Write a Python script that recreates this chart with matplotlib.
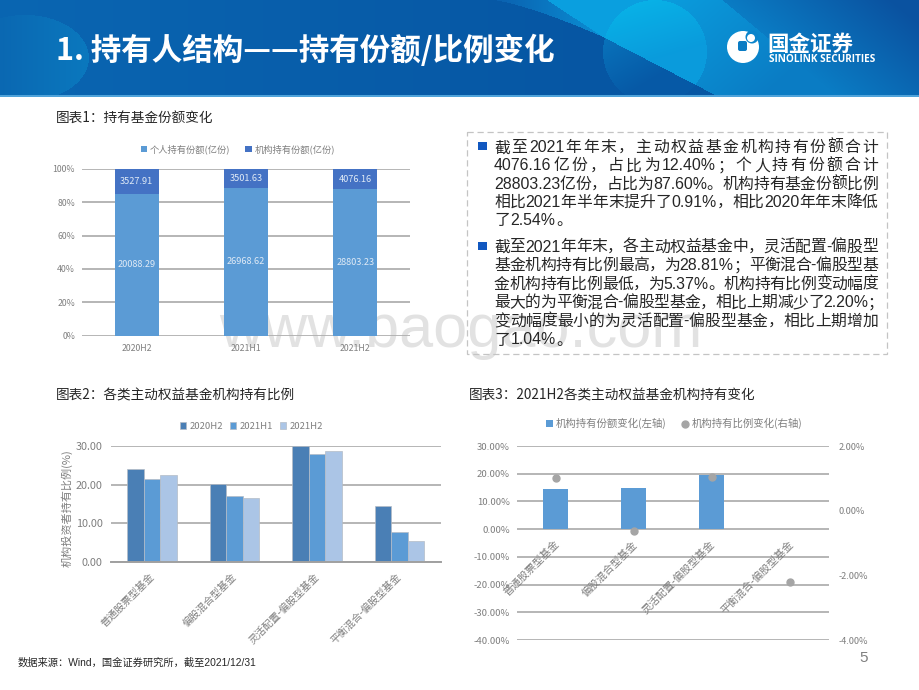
import re
import numpy as np
import matplotlib
matplotlib.use("Agg")
import matplotlib.pyplot as plt
from matplotlib.patches import Circle, FancyBboxPatch, Rectangle

plt.rcParams['font.family'] = ['Noto Sans CJK SC', 'DejaVu Sans']

W, H = 920, 690
GRAY = '#7f7f7f'
GRID = '#b0b0b0'
TEXT_FONT = ['Liberation Sans', 'Noto Sans CJK SC']

# chart 1
periods = ['2020H2', '2021H1', '2021H2']
personal = [20088.29, 26968.62, 28803.23]
institution = [3527.91, 3501.63, 4076.16]

# chart 2
fund_types = ['普通股票型基金', '偏股混合型基金', '灵活配置-偏股型基金', '平衡混合-偏股型基金']
ratio_2020h2 = [24.0, 20.2, 30.0, 14.4]
ratio_2021h1 = [21.4, 17.1, 27.8, 7.6]
ratio_2021h2 = [22.4, 16.5, 28.81, 5.37]

# chart 3
share_change = [14.4, 15.0, 19.6, 0.2]
ratio_change = [1.0, -0.62, 1.04, -2.20]

para1 = ['截至2021年年末，主动权益基金机构持有份额合计',
         '4076.16亿份， 占比为 12.40%； 个人持有份额合计',
         '28803.23亿份，占比为87.60%。机构持有基金份额比例',
         '相比2021年半年末提升了0.91%，相比2020年年末降低',
         '了2.54%。']
para2 = ['截至2021年年末，各主动权益基金中，灵活配置-偏股型',
         '基金机构持有比例最高，为28.81%；平衡混合-偏股型基',
         '金机构持有比例最低，为5.37%。机构持有比例变动幅度',
         '最大的为平衡混合-偏股型基金，相比上期减少了2.20%；',
         '变动幅度最小的为灵活配置-偏股型基金，相比上期增加',
         '了1.04%。']


def lerp(c1, c2, t):
    c1 = np.array(matplotlib.colors.to_rgb(c1))
    c2 = np.array(matplotlib.colors.to_rgb(c2))
    t = np.clip(t, 0, 1)[..., None]
    return c1 * (1 - t) + c2 * t


def header_image():
    x, y = np.meshgrid(np.arange(W) + 0.5, np.arange(96) + 0.5)
    img = lerp('#0a66b2', '#0656a3', x / 600)

    # left oval
    oval = ((x - 25) / 64) ** 2 + ((y - 58) / 43) ** 2 < 1
    img[oval] = lerp('#0a68b2', '#0a78be', x / 88)[oval]

    # big circle under the wedge
    circle = (x - 655) ** 2 + (y - 52) ** 2 < 52 ** 2
    img[circle] = lerp('#0a80c6', '#0659a6', (y + (x - 603) * 0.6) / 110)[circle]

    # swoosh running in from the top
    edge_low = 37 * ((x - 493) / 110) ** 1.3
    edge_high = np.where(x < 603, 37 * (x - 547) / 56, 37)
    swoosh = (x > 493) & (x < 603) & (y < edge_low) & (y > edge_high)
    img[swoosh] = lerp('#0a5fae', '#0a8fd4', (x - 493) / 110)[swoosh]

    # light area on the right
    edge = np.where(x < 603, 37 * (x - 547) / 56, 37 + (x - 603) * 59 / 114)
    light = (x > 547) & (y < edge)
    grad = lerp('#0a9fdf', '#0a7cc4', (x - 600) / 230 + (y - 40) / 200)
    far = lerp('#0a7cc4', '#0a52a0', (x + (48 - y) * 1.2 - 780) / 170)
    mix = np.where((x + (48 - y) * 1.2)[..., None] > 780, far, grad)
    img[light] = mix[light]

    top_circle = circle & light
    img[top_circle] = lerp('#08b4e8', '#0a9bdc', (y + (x - 620) * 0.3) / 70)[top_circle]
    return img


def px_axes(fig, left, top, right, bottom):
    ax = fig.add_axes([left / W, 1 - bottom / H, (right - left) / W, (bottom - top) / H])
    ax.patch.set_alpha(0)
    for s in ax.spines.values():
        s.set_visible(False)
    ax.tick_params(length=0, labelcolor=GRAY)
    return ax


def justify_line(bg, renderer, line, x0, x1, y, size, stretch=True):
    # split into latin runs and single CJK chars, then spread the gap over them
    tokens = re.findall(r'[0-9A-Za-z.%\-]+|\S', line)
    items = [bg.text(0, y, t, fontsize=size, family=TEXT_FONT, color='#262626', va='center', ha='left') for t in tokens]
    widths = [t.get_window_extent(renderer).width for t in items]
    for i, t in enumerate(tokens):
        if t in '，；。：':
            widths[i] = size * 100 / 72
    gap = (x1 - x0 - sum(widths)) / (len(tokens) - 1) if stretch else 0.6
    x = x0
    for item, w in zip(items, widths):
        item.set_x(x)
        x += w + gap


def draw_background(fig):
    bg = fig.add_axes([0, 0, 1, 1])
    bg.set_xlim(0, W)
    bg.set_ylim(H, 0)
    bg.axis('off')
    bg.imshow(header_image(), extent=(0, W, 96, 0), aspect='auto', interpolation='bilinear', zorder=1)
    bg.set_xlim(0, W)
    bg.set_ylim(H, 0)
    bg.add_patch(Rectangle((0, 95), W, 1.5, color='#4fa3da', lw=0, zorder=2))

    # watermark
    bg.text(219, 347, 'www.baogao.com', fontsize=44, family='Liberation Sans', color='#e2e2e2', va='baseline', zorder=2)

    bg.text(56, 51, '1. 持有人结构——持有份额/比例变化', fontsize=22, color='white', weight='bold',
            va='center', ha='left', zorder=5)

    # logo
    bg.add_patch(Circle((743, 47), 16, color='white', lw=0, zorder=5))
    bg.add_patch(Circle((752, 37), 6.5, color='#0a84cb', lw=0, zorder=6))
    bg.add_patch(Circle((751, 38), 4, color='white', lw=0, zorder=7))
    bg.add_patch(FancyBboxPatch((738, 41), 9, 10, boxstyle='round,pad=0,rounding_size=2', color='#0a7cc4', lw=0, zorder=7))
    bg.text(767, 44, '国金证券', fontsize=15.5, color='white', weight='bold', va='center', ha='left', zorder=5)
    bg.text(769, 59, 'SINOLINK SECURITIES', fontsize=7.2, color='white', weight='bold',
            family='Open Sans', va='center', ha='left', zorder=5)

    # captions and footer
    cap = dict(fontsize=9.8, color='#262626', style='italic', va='center', ha='left')
    bg.text(56, 118, '图表1：持有基金份额变化', **cap)
    bg.text(56, 396, '图表2：各类主动权益基金机构持有比例', **cap)
    bg.text(469, 396, '图表3：2021H2各类主动权益基金机构持有变化', **cap)
    bg.text(18, 663, '数据来源：Wind，国金证券研究所，截至2021/12/31', fontsize=7.4, family=TEXT_FONT,
            color='#262626', va='center', ha='left')
    bg.text(859, 658, '5', fontsize=11, family='Liberation Sans', color='#7f7f7f', va='center', ha='left')

    # text panel
    bg.add_patch(Rectangle((467, 132), 420, 222, fill=False, ec='#c4c4c4', lw=0.9, ls=(0, (5, 3)), zorder=3))
    bg.add_patch(Rectangle((478, 142), 9, 8, color='#1158c0', lw=0, zorder=5))
    bg.add_patch(Rectangle((478, 242), 9, 8, color='#1158c0', lw=0, zorder=5))
    renderer = fig.canvas.get_renderer()
    for i, line in enumerate(para1):
        justify_line(bg, renderer, line, 494, 878, 147.7 + i * 18.2, 11.4, stretch=i < 4)
    for i, line in enumerate(para2):
        justify_line(bg, renderer, line, 494, 884 if i == 3 else 878, 247 + i * 18.6, 11.4, stretch=i < 5)


def share_chart(fig):
    ax = px_axes(fig, 82, 168.7, 410, 335.7)
    x = np.arange(len(periods))
    total = np.array(personal) + np.array(institution)
    low = np.array(personal) / total
    high = np.array(institution) / total
    ax.bar(x, low, 0.4, color='#5b9bd5', label='个人持有份额(亿份)', zorder=3)
    ax.bar(x, high, 0.4, bottom=low, color='#4472c4', label='机构持有份额(亿份)', zorder=3)
    for i in x:
        ax.text(i, low[i] / 2, f'{personal[i]:.2f}', color='#dfeaf6', fontsize=6.6, ha='center', va='center', zorder=4)
        ax.text(i, low[i] + high[i] / 2, f'{institution[i]:.2f}', color='#dfeaf6', fontsize=6.6, ha='center', va='center', zorder=4)
    ax.set_xlim(-0.5, 2.5)
    ax.set_ylim(0, 1)
    ax.set_yticks(np.arange(0, 1.01, 0.2), [f'{v}%' for v in range(0, 101, 20)], fontsize=6.3)
    ax.set_xticks(x, periods, fontsize=6.3)
    ax.tick_params(axis='y', pad=5)
    ax.tick_params(axis='x', pad=6)
    ax.grid(axis='y', color=GRID, lw=1.3, zorder=0)
    ax.set_axisbelow(True)
    ax.legend(loc='lower center', bbox_to_anchor=(0.475, 1.06), ncol=2, frameon=False, fontsize=6.7, labelcolor=GRAY,
              handlelength=0.7, handleheight=0.7, handletextpad=0.3, columnspacing=1.6, borderpad=0)


def ratio_chart(fig):
    ax = px_axes(fig, 111, 446, 441, 561.7)
    x = np.arange(len(fund_types))
    w = 0.2
    edge = dict(edgecolor='#b4bcc6', linewidth=0.5, zorder=3)
    ax.bar(x - w, ratio_2020h2, w, color='#4a7fb5', label='2020H2', **edge)
    ax.bar(x, ratio_2021h1, w, color='#5b9bd5', label='2021H1', **edge)
    ax.bar(x + w, ratio_2021h2, w, color='#abc5e6', label='2021H2', **edge)
    ax.set_xlim(-0.5, 3.5)
    ax.set_ylim(0, 30)
    ax.set_yticks([0, 10, 20, 30], ['0.00', '10.00', '20.00', '30.00'], fontsize=7.8)
    ax.set_xticks([])
    ax.tick_params(axis='y', pad=6)
    for i, name in zip(x, fund_types):
        ax.annotate(name, (i, 0), xytext=(-2.5, -7), textcoords='offset points', rotation=45, ha='right', va='top',
                    rotation_mode='anchor', color=GRAY, fontsize=7.3, zorder=5)
    ax.grid(axis='y', color=GRID, lw=1.3, zorder=0)
    ax.set_axisbelow(True)
    ax.axhline(0, color='#a0a0a0', lw=1.4, zorder=4, clip_on=False)
    fig.text(67 / W, 1 - 508 / H, '机构投资者持有比例(%)', rotation=90, color=GRAY, fontsize=8, ha='center', va='center')
    ax.legend(loc='lower center', bbox_to_anchor=(0.425, 1.09), ncol=3, frameon=False, fontsize=6.8, labelcolor=GRAY,
              handlelength=0.7, handleheight=0.7, handletextpad=0.35, columnspacing=0.7, borderpad=0)


def change_chart(fig):
    ax = px_axes(fig, 516.7, 446, 828.7, 640)
    x = np.arange(len(fund_types))
    bars = ax.bar(x, share_change, 0.32, color='#5b9bd5', zorder=3, label='机构持有份额变化(左轴)')
    ax.set_xlim(-0.5, 3.5)
    ax.set_ylim(-40, 30)
    ticks = np.arange(-40, 31, 10)
    ax.set_yticks(ticks, [f'{t:.2f}%' for t in ticks], fontsize=6.9)
    ax.set_xticks([])
    ax.tick_params(axis='y', pad=5)
    ax.grid(axis='y', color=GRID, lw=1.3, zorder=0)
    ax.set_axisbelow(True)
    for i, name in zip(x, fund_types):
        ax.annotate(name, (i, 0), xytext=(-1.5, -7), textcoords='offset points', rotation=45, ha='right', va='top',
                    rotation_mode='anchor', color=GRAY, fontsize=7.6, zorder=5)

    ax2 = ax.twinx()
    ax2.patch.set_alpha(0)
    for s in ax2.spines.values():
        s.set_visible(False)
    dots = ax2.scatter(x, ratio_change, s=25, color='#a5a5a5', zorder=6, label='机构持有比例变化(右轴)')
    ax2.set_ylim(-4, 2)
    rticks = [-4, -2, 0, 2]
    ax2.set_yticks(rticks, [f'{t:.2f}%' for t in rticks], fontsize=6.6)
    ax2.tick_params(length=0, labelcolor=GRAY, pad=7)
    ax.legend([bars, dots], [bars.get_label(), dots.get_label()], loc='lower center', bbox_to_anchor=(0.505, 1.06),
              ncol=2, frameon=False, fontsize=7.5, labelcolor=GRAY, handlelength=0.7, handleheight=0.7,
              handletextpad=0.3, columnspacing=1.4, borderpad=0)


def main():
    fig = plt.figure(figsize=(W / 100, H / 100), dpi=100, facecolor='white')
    draw_background(fig)
    share_chart(fig)
    ratio_chart(fig)
    change_chart(fig)
    fig.savefig('out.png', dpi=100)


if __name__ == "__main__":
    main()
